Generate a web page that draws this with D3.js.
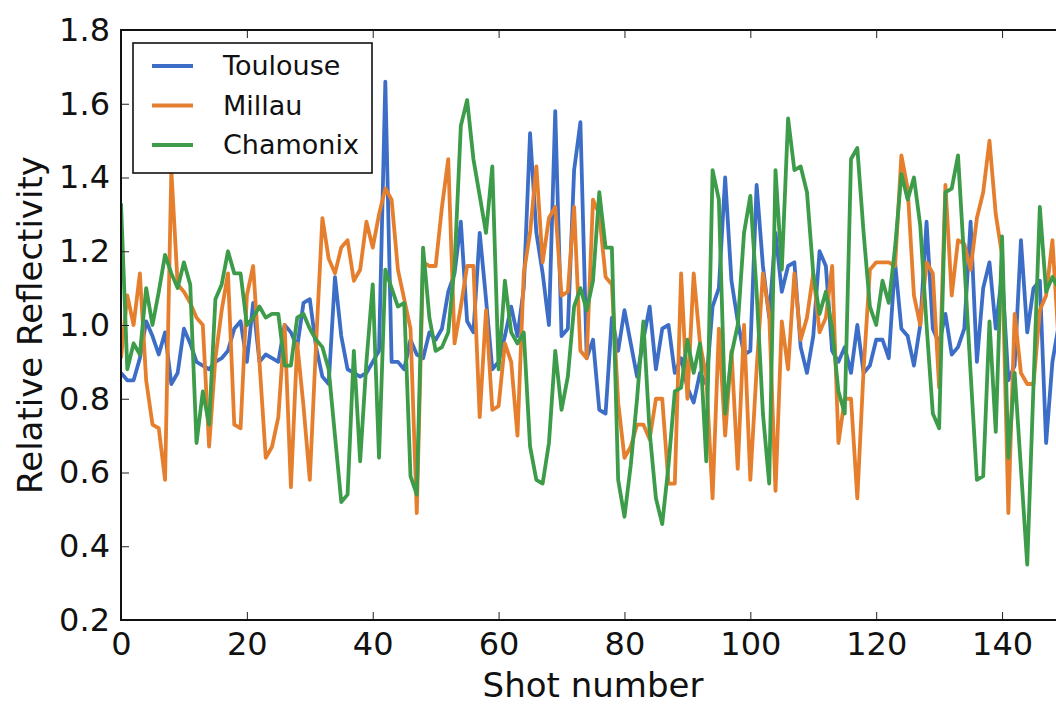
<!DOCTYPE html>
<html>
<head>
<meta charset="utf-8">
<script src="https://cdn.jsdelivr.net/npm/d3@7"></script>
<style>
  body { margin: 0; background: #fff; }
  svg text { font-family: "DejaVu Sans", sans-serif; fill: #111; }
  .axis .domain { display: none; }
  .axis line { stroke: #222; stroke-width: 1; }
</style>
</head>
<body>
<div id="chart"></div>
<script>
// Values, one per shot (0..149)
const toulouse = [0.87,0.85,0.85,0.91,1.01,0.97,0.92,0.98,0.84,0.87,0.99,0.95,0.90,0.89,0.88,0.90,0.91,0.93,0.99,1.01,
  0.90,1.06,0.90,0.92,0.91,0.90,1.00,0.98,0.94,1.06,1.07,0.94,0.86,0.84,1.13,0.97,0.88,0.87,0.86,0.87,
  0.90,0.93,1.66,0.90,0.90,0.88,0.96,0.92,0.91,0.98,0.96,0.99,1.09,1.14,1.28,1.01,0.98,1.25,1.07,0.88,
  0.90,0.97,1.05,0.97,1.10,1.52,1.25,1.14,1.00,1.58,0.97,0.99,1.42,1.55,0.91,0.96,0.77,0.76,1.02,0.93,
  1.04,0.95,0.86,0.96,1.05,0.88,0.99,1.00,0.87,0.91,0.83,0.79,0.87,0.84,1.05,1.10,1.40,1.12,1.01,0.92,
  0.93,1.38,1.16,1.02,1.25,1.09,1.16,1.17,0.94,0.87,0.97,1.20,1.16,0.93,0.90,0.94,0.87,1.00,0.87,0.89,
  0.96,0.96,0.91,1.17,0.99,0.97,0.89,1.00,1.28,0.99,0.95,1.03,0.92,0.94,0.99,1.28,0.90,1.10,1.17,0.99,
  1.14,0.85,0.89,1.23,0.98,1.10,1.12,0.68,0.90,1.00];

const millau = [0.91,1.08,1.00,1.14,0.85,0.73,0.72,0.58,1.42,1.11,1.09,1.06,1.02,1.00,0.67,0.91,1.04,1.14,0.73,0.72,
  1.08,1.16,0.90,0.64,0.67,0.75,1.00,0.56,0.95,0.78,0.58,0.95,1.29,1.18,1.14,1.21,1.23,1.12,1.15,1.28,
  1.21,1.30,1.37,1.34,1.15,1.07,0.99,0.49,1.17,1.16,1.16,1.32,1.45,0.95,1.05,1.16,1.16,0.75,1.04,0.77,
  0.78,0.95,0.90,0.70,1.14,1.25,1.43,1.17,1.29,1.32,1.08,1.09,1.32,0.93,0.91,1.34,1.30,1.13,1.11,0.79,
  0.64,0.67,0.73,0.73,0.69,0.80,0.80,0.57,0.57,1.14,0.80,1.14,0.95,0.86,0.53,0.99,0.70,0.93,0.61,1.00,
  0.58,0.88,1.14,1.03,0.55,1.01,0.88,1.14,0.96,1.02,1.14,0.98,1.02,1.16,0.68,0.80,0.80,0.53,0.88,1.15,
  1.17,1.17,1.17,1.16,1.46,1.37,1.08,1.00,1.17,1.14,0.83,1.38,1.08,1.23,1.22,1.15,1.29,1.36,1.50,1.30,
  1.19,0.49,1.03,0.87,0.84,0.84,1.04,1.08,1.23,0.95];

const chamonix = [1.33,0.88,0.95,0.92,1.10,1.00,1.09,1.19,1.14,1.10,1.17,1.11,0.68,0.82,0.73,1.07,1.11,1.20,1.14,1.14,
  1.00,1.02,1.05,1.02,1.03,1.03,0.89,0.89,1.02,1.03,0.99,0.96,0.94,0.88,0.70,0.52,0.54,0.93,0.63,0.90,
  1.11,0.64,1.15,1.10,1.05,1.06,0.59,0.54,1.21,1.02,0.93,0.94,0.98,1.16,1.54,1.61,1.45,1.35,1.25,1.43,
  0.88,1.12,0.98,0.95,0.98,0.67,0.58,0.57,0.68,0.93,0.77,0.86,1.05,1.10,1.04,1.12,1.36,1.21,1.21,0.58,
  0.48,0.62,0.80,1.01,0.71,0.53,0.46,0.62,0.82,0.83,0.96,0.87,0.95,0.63,1.42,1.34,0.76,0.92,1.00,1.25,
  1.35,1.09,0.76,0.57,1.42,1.15,1.56,1.42,1.43,1.36,1.14,1.03,1.09,0.99,0.82,0.76,1.45,1.48,1.25,1.05,
  1.00,1.12,1.06,1.21,1.41,1.34,1.40,1.27,1.00,0.76,0.72,1.36,1.37,1.46,1.17,0.87,0.58,0.59,1.01,0.71,
  1.24,0.64,0.87,0.61,0.35,0.84,1.32,1.09,1.13,1.10];

const seriesNames = ["Toulouse", "Millau", "Chamonix"];
const seriesColors = ["#3d6ec7", "#e57f2d", "#3d9c49"];
const xTicks = [0, 20, 40, 60, 80, 100, 120, 140];
const yTicks = [0.2, 0.4, 0.6, 0.8, 1.0, 1.2, 1.4, 1.6, 1.8];

const width = 1056, height = 704;
const margin = {top: 30, right: -9, bottom: 84, left: 121};
const plotW = width - margin.left - margin.right;
const plotH = height - margin.top - margin.bottom;

const svg = d3.select("#chart").append("svg")
    .attr("width", width)
    .attr("height", height);

const x = d3.scaleLinear().domain([0, 150]).range([0, plotW]);
const y = d3.scaleLinear().domain([0.2, 1.8]).range([plotH, 0]);

const g = svg.append("g")
    .attr("transform", "translate(" + margin.left + "," + margin.top + ")");

g.append("clipPath").attr("id", "plotclip")
    .append("rect").attr("width", plotW).attr("height", plotH);

// lines
const line = d3.line()
    .x((d, i) => x(i))
    .y(d => y(d));

const allSeries = [toulouse, millau, chamonix];
g.append("g").attr("clip-path", "url(#plotclip)")
    .selectAll("path")
    .data(allSeries)
    .enter().append("path")
    .attr("d", line)
    .attr("fill", "none")
    .attr("stroke", (d, i) => seriesColors[i])
    .attr("stroke-width", 3.8)
    .attr("stroke-linejoin", "round");

// axes, ticks point inward on all four sides
g.append("g").attr("class", "axis")
    .attr("transform", "translate(0," + plotH + ")")
    .call(d3.axisBottom(x).tickValues(xTicks).tickSizeInner(-8).tickSizeOuter(0).tickPadding(12))
    .selectAll("text").style("font-size", "32px");

g.append("g").attr("class", "axis")
    .call(d3.axisTop(x).tickValues(xTicks).tickSizeInner(-8).tickSizeOuter(0).tickFormat(""));

g.append("g").attr("class", "axis")
    .call(d3.axisLeft(y).tickValues(yTicks).tickSizeInner(-8).tickSizeOuter(0).tickPadding(11)
        .tickFormat(d3.format(".1f")))
    .selectAll("text").style("font-size", "32px");

g.append("g").attr("class", "axis")
    .attr("transform", "translate(" + plotW + ",0)")
    .call(d3.axisRight(y).tickValues(yTicks).tickSizeInner(-8).tickSizeOuter(0).tickFormat(""));

// frame
g.append("rect")
    .attr("width", plotW)
    .attr("height", plotH)
    .attr("fill", "none")
    .attr("stroke", "#111")
    .attr("stroke-width", 2);

// axis titles
svg.append("text")
    .attr("x", margin.left + plotW / 2)
    .attr("y", 697)
    .attr("text-anchor", "middle")
    .style("font-size", "34px")
    .text("Shot number");

svg.append("text")
    .attr("transform", "translate(42," + (margin.top + plotH / 2) + ") rotate(-90)")
    .attr("text-anchor", "middle")
    .style("font-size", "34px")
    .text("Relative Reflectivity");

// legend
const legend = g.append("g").attr("transform", "translate(12,13)");
legend.append("rect")
    .attr("width", 239)
    .attr("height", 130)
    .attr("fill", "#fff")
    .attr("stroke", "#111")
    .attr("stroke-width", 1.6);

const item = legend.selectAll("g.item")
    .data(seriesNames)
    .enter().append("g")
    .attr("class", "item")
    .attr("transform", (d, i) => "translate(0," + (23 + i * 39.5) + ")");

item.append("line")
    .attr("x1", 19).attr("x2", 60)
    .attr("stroke", (d, i) => seriesColors[i])
    .attr("stroke-width", 4);

item.append("text")
    .attr("x", 90)
    .attr("dy", "0.35em")
    .style("font-size", "27px")
    .text(d => d);
</script>
</body>
</html>
